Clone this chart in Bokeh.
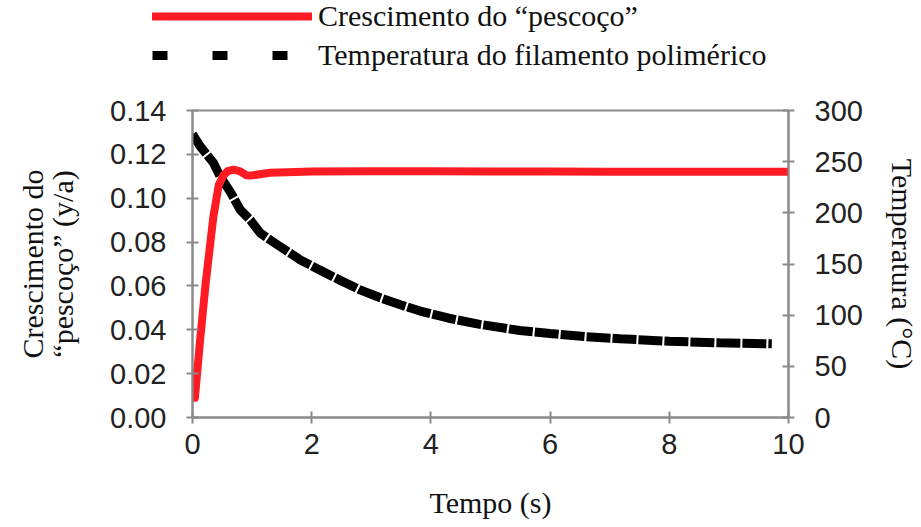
from bokeh.plotting import figure
from bokeh.models import Range1d, LinearAxis, Legend, LegendItem, FixedTicker, NumeralTickFormatter
from bokeh.embed import file_html
from bokeh.resources import INLINE

# ---- data ----
neck_t = [0.04, 0.13, 0.22, 0.35, 0.44, 0.52, 0.60, 0.69, 0.80, 0.90, 0.97, 1.3, 2.0, 3.0, 4.0, 5.0, 6.0, 7.0, 8.0, 9.0, 10.0]
neck_v = [0.009, 0.036, 0.061, 0.0915, 0.106, 0.1105, 0.1125, 0.1130, 0.1122, 0.1105, 0.1103, 0.1116, 0.1122, 0.1123, 0.1123, 0.1122, 0.1122, 0.1121, 0.1121, 0.1121, 0.1121]

temp_t = [0.0, 0.13, 0.35, 0.47, 0.64, 0.80, 0.97, 1.14, 1.47, 1.81, 2.14, 2.48, 2.8, 3.15, 3.5, 3.82, 4.3, 4.82, 5.49, 6.0, 6.6, 7.17, 8.0, 8.84, 9.72]
temp_v = [277, 265, 249, 235, 220, 203, 193, 180, 167, 154, 144, 134, 125, 117, 110, 104, 97, 91, 85, 82, 79, 77, 74.5, 73, 72]

x_ticks = [0, 2, 4, 6, 8, 10]
y_ticks = [0, 0.02, 0.04, 0.06, 0.08, 0.10, 0.12, 0.14]
t_ticks = [0, 50, 100, 150, 200, 250, 300]

legend_labels = ["Crescimento do \u201cpescoço\u201d", "Temperatura do filamento polimérico"]

RED = "#fe1b24"
GRAY = "#8a8a8a"
SANS = "Liberation Sans"
SERIF = "Liberation Serif"

# ---- legend strip (top) ----
lg = figure(width=921, height=95, output_backend="svg", toolbar_location=None,
            x_range=Range1d(0, 10), y_range=Range1d(0, 300),
            min_border_left=0, min_border_right=0, min_border_top=0, min_border_bottom=0)
lg.axis.visible = False
lg.grid.visible = False
lg.outline_line_color = None
lg_red = lg.line(neck_t, neck_v, line_color=RED, line_width=8, line_cap="round", visible=False)
lg_black = lg.line(temp_t, temp_v, line_color="black", line_width=9, line_dash="15 45", visible=False)
legend = Legend(items=[LegendItem(label=legend_labels[0], renderers=[lg_red]),
                       LegendItem(label=legend_labels[1], renderers=[lg_black])],
                location=(152, 23), orientation="vertical",
                glyph_width=160, glyph_height=30, label_height=30, spacing=5,
                label_standoff=6, padding=0, margin=0,
                border_line_color=None, background_fill_alpha=0,
                label_text_font=SERIF, label_text_font_size="30px", label_text_color="#111111")
lg.add_layout(legend, "center")

# ---- main chart ----
p = figure(width=921, height=432, output_backend="svg", toolbar_location=None,
           x_range=Range1d(0, 10), y_range=Range1d(0, 0.14),
           min_border_left=192, min_border_right=132, min_border_top=15, min_border_bottom=110)
p.extra_y_ranges = {"temp": Range1d(0, 300)}
p.grid.visible = False
p.outline_line_color = GRAY
p.outline_line_width = 2

black_line = p.line(temp_t, temp_v, y_range_name="temp", line_color="black", line_width=9,
                    line_dash="24 2")
red_line = p.line(neck_t, neck_v, line_color=RED, line_width=8, line_cap="round", line_join="round")

right = LinearAxis(y_range_name="temp")
p.add_layout(right, "right")

for ax in [p.xaxis[0], p.yaxis[0], right]:
    ax.axis_line_color = GRAY
    ax.axis_line_width = 2
    ax.major_tick_line_color = GRAY
    ax.major_tick_line_width = 2
    ax.major_tick_in = 6
    ax.major_tick_out = 6
    ax.minor_tick_line_color = None
    ax.major_label_text_font = SANS
    ax.major_label_text_font_size = "29px"
    ax.major_label_text_color = "#222222"
    ax.axis_label_text_font = SERIF
    ax.axis_label_text_font_size = "30px"
    ax.axis_label_text_font_style = "normal"
    ax.axis_label_text_color = "#111111"

p.xaxis[0].ticker = FixedTicker(ticks=x_ticks)
p.yaxis[0].ticker = FixedTicker(ticks=y_ticks)
p.yaxis[0].formatter = NumeralTickFormatter(format="0.00")
right.ticker = FixedTicker(ticks=t_ticks)

p.xaxis[0].axis_label = "Tempo (s)"
p.xaxis[0].major_label_standoff = 10
p.xaxis[0].axis_label_standoff = 29
p.yaxis[0].axis_label = "Crescimento do\n\u201cpescoço\u201d (y/a)"
p.yaxis[0].axis_label_text_line_height = 0.9
p.yaxis[0].major_label_standoff = 20
p.yaxis[0].axis_label_standoff = 28
right.axis_label = "Temperatura (°C)"
right.major_label_standoff = 20
right.axis_label_standoff = 20

open("out.html", "w").write(file_html([lg, p], INLINE))
